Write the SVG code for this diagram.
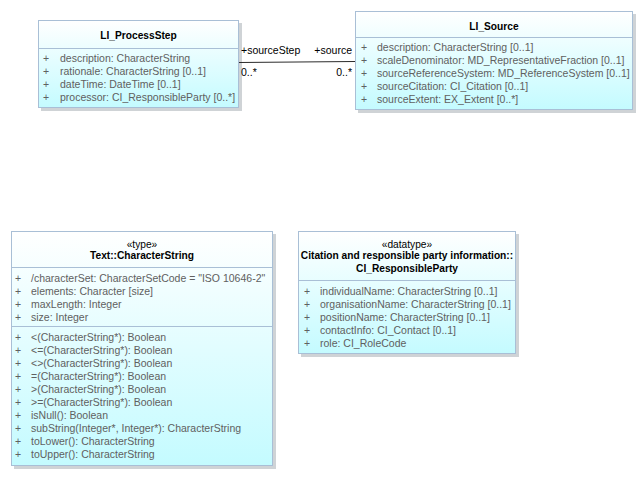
<svg xmlns="http://www.w3.org/2000/svg" width="643" height="496" viewBox="0 0 643 496">
<defs>
<linearGradient id="fill" x1="0" y1="0" x2="0" y2="1">
<stop offset="0" stop-color="#ffffff"/>
<stop offset="1" stop-color="#c4fbff"/>
</linearGradient>
<style>
.box{fill:url(#fill);stroke:#a9bfd6;stroke-width:1}
.shadow{fill:#cfd3d6}
.sep{stroke:#a9bfd6;stroke-width:1}
.t{font-family:"Liberation Sans",Arial,sans-serif;font-size:10.2px;fill:#000;font-weight:bold;text-anchor:middle}
.st{font-family:"Liberation Sans",Arial,sans-serif;font-size:10.2px;fill:#000;text-anchor:middle}
.a{font-family:"Liberation Sans",Arial,sans-serif;font-size:10.5px;fill:#606060}
.lbl{font-family:"Liberation Sans",Arial,sans-serif;font-size:10.5px;fill:#000}
.conn{stroke:#2b2b2b;stroke-width:1;fill:none}
</style>
</defs>
<rect width="643" height="496" fill="#ffffff"/>

<g id="LI_ProcessStep">
<rect class="shadow" x="41" y="23" width="201" height="88"/>
<rect class="box" x="38.5" y="20.5" width="200" height="87"/>
<line class="sep" x1="38.5" y1="48.5" x2="238.5" y2="48.5"/>
<text class="t" x="138.5" y="39">LI_ProcessStep</text>
<text class="a" x="43" y="62">+</text><text class="a" x="60" y="62">description: CharacterString</text>
<text class="a" x="43" y="75">+</text><text class="a" x="60" y="75">rationale: CharacterString [0..1]</text>
<text class="a" x="43" y="88">+</text><text class="a" x="60" y="88">dateTime: DateTime [0..1]</text>
<text class="a" x="43" y="101">+</text><text class="a" x="60" y="101">processor: CI_ResponsibleParty [0..*]</text>
</g>

<g id="LI_Source">
<rect class="shadow" x="358" y="14" width="278" height="99"/>
<rect class="box" x="355.5" y="11.5" width="277" height="98"/>
<line class="sep" x1="355.5" y1="37.5" x2="632.5" y2="37.5"/>
<text class="t" x="494" y="30">LI_Source</text>
<text class="a" x="361" y="51">+</text><text class="a" x="377" y="51">description: CharacterString [0..1]</text>
<text class="a" x="361" y="64">+</text><text class="a" x="377" y="64">scaleDenominator: MD_RepresentativeFraction [0..1]</text>
<text class="a" x="361" y="77">+</text><text class="a" x="377" y="77">sourceReferenceSystem: MD_ReferenceSystem [0..1]</text>
<text class="a" x="361" y="90">+</text><text class="a" x="377" y="90">sourceCitation: CI_Citation [0..1]</text>
<text class="a" x="361" y="103">+</text><text class="a" x="377" y="103">sourceExtent: EX_Extent [0..*]</text>
</g>

<g id="CharacterString">
<rect class="shadow" x="14" y="234" width="262" height="235"/>
<rect class="box" x="11.5" y="231.5" width="261" height="234"/>
<line class="sep" x1="11.5" y1="267.5" x2="272.5" y2="267.5"/>
<line class="sep" x1="11.5" y1="326.5" x2="272.5" y2="326.5"/>
<text class="st" x="142" y="247.5">«type»</text>
<text class="t" x="142" y="259">Text::CharacterString</text>
<text class="a" x="15" y="282">+</text><text class="a" x="31" y="282">/characterSet: CharacterSetCode = "ISO 10646-2"</text>
<text class="a" x="15" y="295">+</text><text class="a" x="31" y="295">elements: Character [size]</text>
<text class="a" x="15" y="308">+</text><text class="a" x="31" y="308">maxLength: Integer</text>
<text class="a" x="15" y="321">+</text><text class="a" x="31" y="321">size: Integer</text>
<text class="a" x="15" y="341">+</text><text class="a" x="31" y="341">&lt;(CharacterString*): Boolean</text>
<text class="a" x="15" y="354">+</text><text class="a" x="31" y="354">&lt;=(CharacterString*): Boolean</text>
<text class="a" x="15" y="367">+</text><text class="a" x="31" y="367">&lt;&gt;(CharacterString*): Boolean</text>
<text class="a" x="15" y="380">+</text><text class="a" x="31" y="380">=(CharacterString*): Boolean</text>
<text class="a" x="15" y="393">+</text><text class="a" x="31" y="393">&gt;(CharacterString*): Boolean</text>
<text class="a" x="15" y="406">+</text><text class="a" x="31" y="406">&gt;=(CharacterString*): Boolean</text>
<text class="a" x="15" y="419">+</text><text class="a" x="31" y="419">isNull(): Boolean</text>
<text class="a" x="15" y="432">+</text><text class="a" x="31" y="432">subString(Integer*, Integer*): CharacterString</text>
<text class="a" x="15" y="445">+</text><text class="a" x="31" y="445">toLower(): CharacterString</text>
<text class="a" x="15" y="458">+</text><text class="a" x="31" y="458">toUpper(): CharacterString</text>
</g>

<g id="CI_ResponsibleParty">
<rect class="shadow" x="301" y="234" width="218" height="123"/>
<rect class="box" x="298.5" y="231.5" width="217" height="122"/>
<line class="sep" x1="298.5" y1="280.5" x2="515.5" y2="280.5"/>
<text class="st" x="407" y="247.5">«datatype»</text>
<text class="t" x="407" y="259">Citation and responsible party information::</text>
<text class="t" x="407" y="272">CI_ResponsibleParty</text>
<text class="a" x="304" y="295">+</text><text class="a" x="320" y="295">individualName: CharacterString [0..1]</text>
<text class="a" x="304" y="308">+</text><text class="a" x="320" y="308">organisationName: CharacterString [0..1]</text>
<text class="a" x="304" y="321">+</text><text class="a" x="320" y="321">positionName: CharacterString [0..1]</text>
<text class="a" x="304" y="334">+</text><text class="a" x="320" y="334">contactInfo: CI_Contact [0..1]</text>
<text class="a" x="304" y="347">+</text><text class="a" x="320" y="347">role: CI_RoleCode</text>
</g>

<g id="connectors">
<line class="conn" x1="239" y1="62.5" x2="355" y2="61.5"/>
<text class="lbl" x="241" y="54">+sourceStep</text>
<text class="lbl" x="352" y="54" text-anchor="end">+source</text>
<text class="lbl" x="241" y="76">0..*</text>
<text class="lbl" x="352" y="76" text-anchor="end">0..*</text>
</g>
</svg>
